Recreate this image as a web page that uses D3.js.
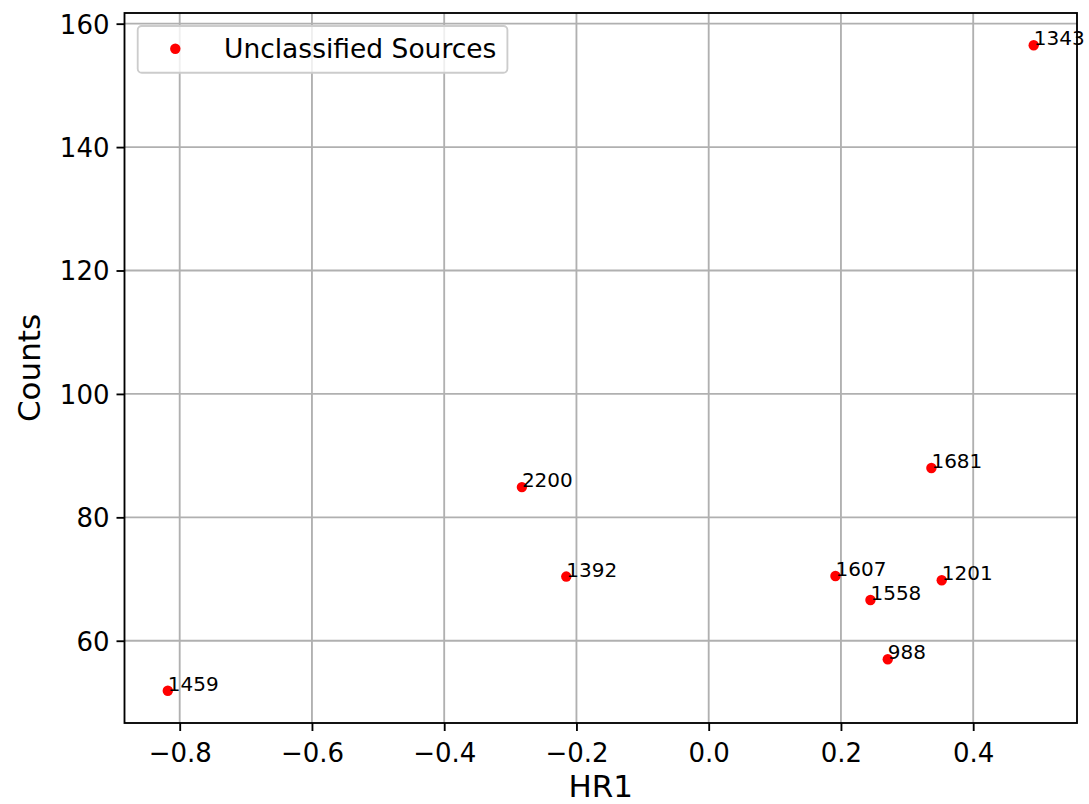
<!DOCTYPE html>
<html>
<head>
<meta charset="utf-8">
<script src="https://cdn.jsdelivr.net/npm/d3@7/dist/d3.min.js"></script>
<style>
  html, body { margin: 0; padding: 0; background: #fff; }
  svg { display: block; font-family: "DejaVu Sans", sans-serif; }
</style>
</head>
<body>
<script>
// Source identifiers, hardness ratio and counts for each unclassified source
const sourceIds = ["1459", "2200", "1392", "1607", "1558", "988", "1681", "1201", "1343"];
const hr1Values = [-0.818, -0.2825, -0.2154, 0.1917, 0.2446, 0.2708, 0.3368, 0.3524, 0.4915];
const countValues = [51.9, 84.9, 70.4, 70.5, 66.6, 57.0, 88.0, 69.8, 156.5];

const xTicks = [-0.8, -0.6, -0.4, -0.2, 0.0, 0.2, 0.4];
const yTicks = [60, 80, 100, 120, 140, 160];
const legendLabel = "Unclassified Sources";

const W = 1089, H = 804;
const plot = { left: 124.5, right: 1077, top: 13, bottom: 723 };

// 5% padding around the data extent on both axes
function padded(vals) {
  const [lo, hi] = d3.extent(vals);
  const m = (hi - lo) * 0.05;
  return [lo - m, hi + m];
}

const x = d3.scaleLinear().domain(padded(hr1Values)).range([plot.left, plot.right]);
const y = d3.scaleLinear().domain(padded(countValues)).range([plot.bottom, plot.top]);

const svg = d3.select("body").append("svg").attr("width", W).attr("height", H);

const lw = 1.85;
const gridColor = "#b0b0b0";
const tickFont = "26px";

// grid lines
const grid = svg.append("g");
grid.selectAll("line.gx").data(xTicks).join("line")
  .attr("x1", d => x(d)).attr("x2", d => x(d))
  .attr("y1", plot.top).attr("y2", plot.bottom)
  .attr("stroke", gridColor).attr("stroke-width", lw);
grid.selectAll("line.gy").data(yTicks).join("line")
  .attr("x1", plot.left).attr("x2", plot.right)
  .attr("y1", d => y(d)).attr("y2", d => y(d))
  .attr("stroke", gridColor).attr("stroke-width", lw);

// axes
const xAxis = d3.axisBottom(x).tickValues(xTicks).tickFormat(d3.format(".1f"))
  .tickSize(8).tickPadding(8).tickSizeOuter(0);
const yAxis = d3.axisLeft(y).tickValues(yTicks).tickFormat(d3.format("d"))
  .tickSize(8).tickPadding(8).tickSizeOuter(0);

const gx = svg.append("g").attr("transform", `translate(0,${plot.bottom})`).call(xAxis);
const gy = svg.append("g").attr("transform", `translate(${plot.left},0)`).call(yAxis);
[gx, gy].forEach(g => {
  g.select(".domain").remove();
  g.selectAll(".tick line").attr("stroke", "#000").attr("stroke-width", lw);
  g.selectAll(".tick text").attr("fill", "#000").style("font-size", tickFont)
    .style("font-family", "DejaVu Sans, sans-serif");
});
gx.selectAll(".tick text").attr("dy", null).attr("y", 38.5);
gy.selectAll(".tick text").attr("dy", "0.36em").attr("x", -15);

// spines
svg.append("rect")
  .attr("x", plot.left).attr("y", plot.top)
  .attr("width", plot.right - plot.left).attr("height", plot.bottom - plot.top)
  .attr("fill", "none").attr("stroke", "#000").attr("stroke-width", lw);

// points
const pts = sourceIds.map((id, i) => ({ id, hr: hr1Values[i], c: countValues[i] }));
svg.append("g").selectAll("circle").data(pts).join("circle")
  .attr("cx", d => x(d.hr)).attr("cy", d => y(d.c)).attr("r", 5.2)
  .attr("fill", "#ff0000");

// point labels
svg.append("g").selectAll("text").data(pts).join("text")
  .attr("x", d => x(d.hr)).attr("y", d => y(d.c))
  .style("font-size", "20px").attr("fill", "#000")
  .text(d => d.id);

// axis titles
svg.append("text")
  .attr("x", (plot.left + plot.right) / 2).attr("y", 797)
  .attr("text-anchor", "middle").style("font-size", "31px")
  .text("HR1");
svg.append("text")
  .attr("transform", `translate(39.5,${(plot.top + plot.bottom) / 2}) rotate(-90)`)
  .attr("text-anchor", "middle").style("font-size", "31px")
  .text("Counts");

// legend
const leg = svg.append("g");
const legBox = leg.append("rect")
  .attr("x", 137.7).attr("y", 26).attr("height", 46.7).attr("rx", 4)
  .attr("fill", "#fff").attr("fill-opacity", 0.8)
  .attr("stroke", "#cccccc").attr("stroke-width", lw);
leg.append("circle").attr("cx", 175.3).attr("cy", 48.7).attr("r", 5.2).attr("fill", "#ff0000");
const legText = leg.append("text").attr("x", 224).attr("y", 48.7).attr("dy", "0.36em")
  .style("font-size", "26.5px").text(legendLabel);
const tw = legText.node().getComputedTextLength();
legBox.attr("width", 224 + tw + 11 - 137.7);
</script>
</body>
</html>
